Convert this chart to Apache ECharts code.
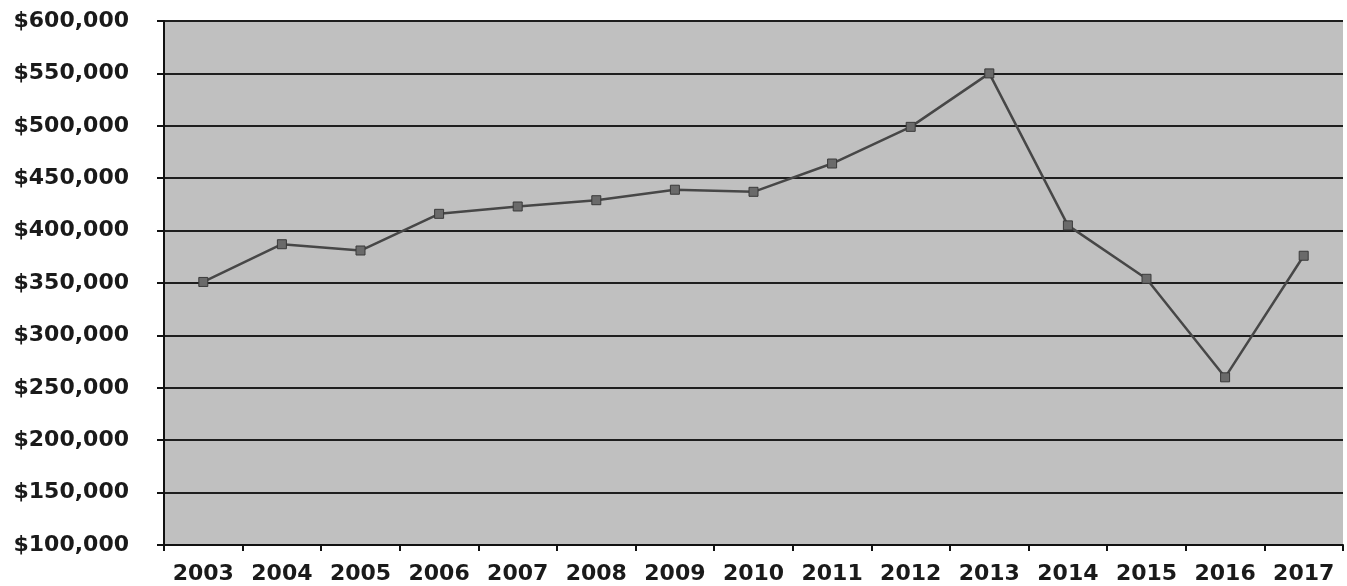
<!DOCTYPE html>
<html>
<head>
<meta charset="utf-8">
<script src="https://cdn.jsdelivr.net/npm/echarts@6/dist/echarts.min.js"></script>
<style>html,body{margin:0;padding:0;background:#fff;}#c{width:1347px;height:586px;}</style>
</head>
<body>
<div id="c"></div>
<script>
const years = ['2003','2004','2005','2006','2007','2008','2009','2010','2011','2012','2013','2014','2015','2016','2017'];
const values = [351000,387000,381000,416000,423000,429000,439000,437000,464000,499000,550000,405000,354000,260000,376000];
const yMin = 100000, yMax = 600000, yStep = 50000;

const chart = echarts.init(document.getElementById('c'));
chart.setOption({
  animation: false,
  grid: {left: 164, right: 4, top: 21, bottom: 41, show: true, backgroundColor: '#c0c0c0', borderWidth: 0},
  xAxis: {
    type: 'category', data: years, boundaryGap: true,
    axisLine: {lineStyle: {color: '#111', width: 2}},
    axisTick: {show: true, length: 6, lineStyle: {color: '#111', width: 2}},
    axisLabel: {interval: 0, hideOverlap: false, color: '#1a1a1a', fontFamily: 'DejaVu Sans', fontWeight: 'bold', fontSize: 22, margin: 18}
  },
  yAxis: {
    type: 'value', min: yMin, max: yMax, interval: yStep,
    axisLine: {show: true, lineStyle: {color: '#111', width: 2}},
    axisTick: {show: true, length: 7, lineStyle: {color: '#111', width: 2}},
    splitLine: {lineStyle: {color: '#1e1e1e', width: 2}},
    axisLabel: {color: '#1a1a1a', fontFamily: 'DejaVu Sans', fontWeight: 'bold', fontSize: 22, margin: 35,
      formatter: v => '$' + v.toLocaleString('en-US')}
  },
  series: [{
    type: 'line', data: values,
    symbol: 'rect', symbolSize: 9,
    lineStyle: {color: '#474747', width: 2.5},
    itemStyle: {color: '#6a6a6a', borderColor: '#3a3a3a', borderWidth: 1}
  }]
});
</script>
</body>
</html>
